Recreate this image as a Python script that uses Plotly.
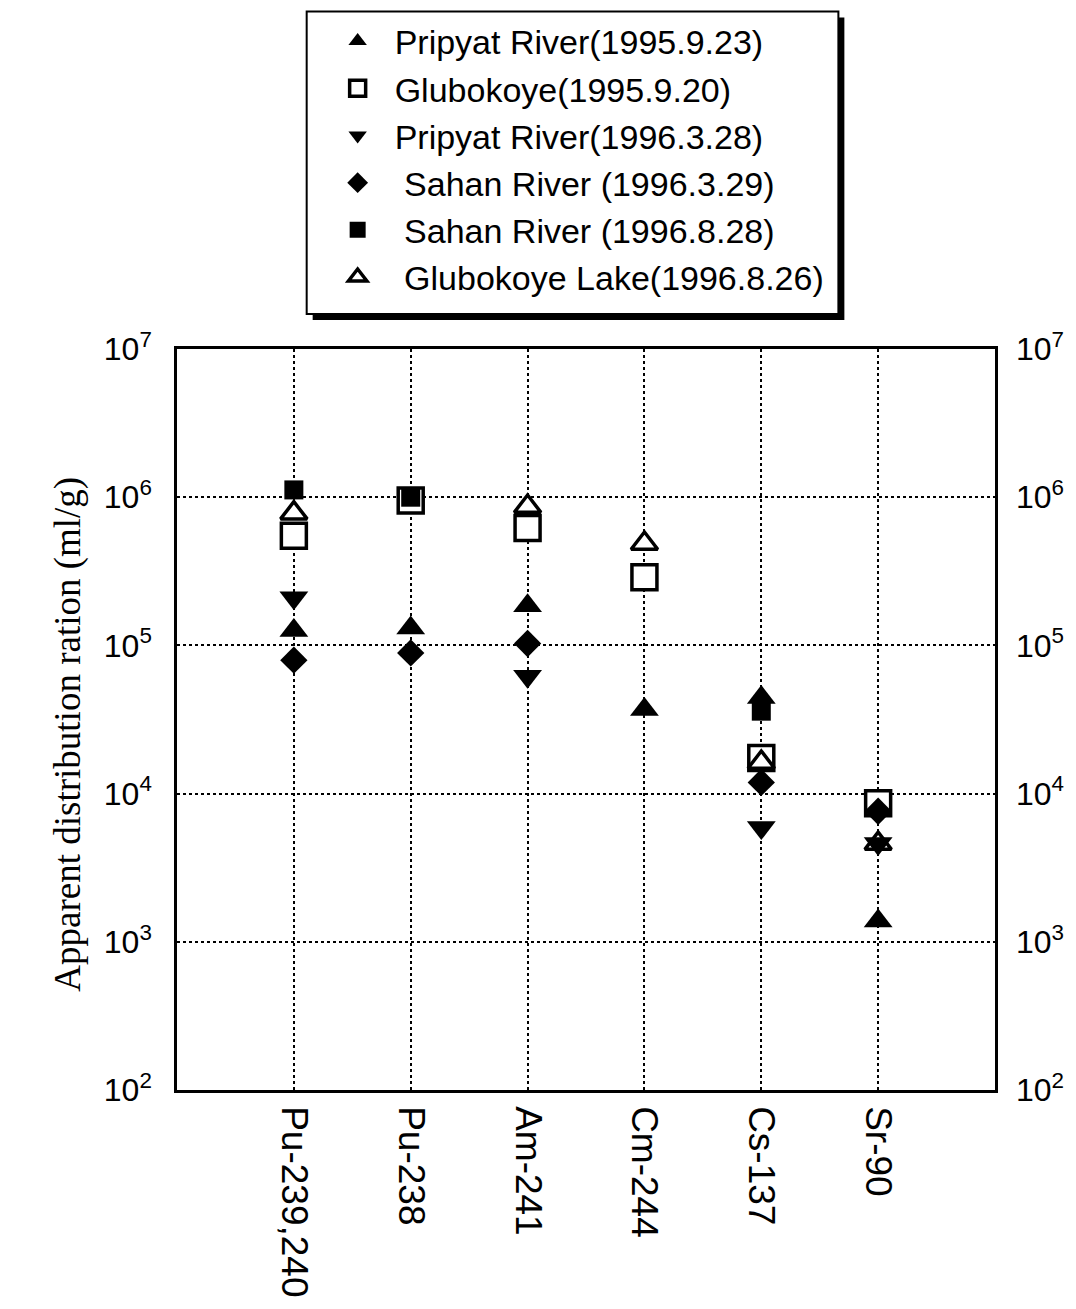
import plotly.graph_objects as go

# Radionuclides along the x axis
isotopes = ["Pu-239,240", "Pu-238", "Am-241", "Cm-244", "Cs-137", "Sr-90"]

# Apparent distribution ratio (ml/g) per sampling campaign
pripyat_1995 = [1.26e5, 1.31e5, 1.85e5, 3.7e4, 4.45e4, 1.38e3]
glubokoye_1995 = [5.5e5, 9.5e5, 6.2e5, 2.88e5, 1.74e4, 8.6e3]
pripyat_1996 = [2.1e5, None, 6.2e4, None, 5.9e3, 4.6e3]
sahan_1996_03 = [7.95e4, 8.9e4, 1.03e5, None, 1.19e4, 7.6e3]
sahan_1996_08 = [1.12e6, 1.0e6, None, None, 3.6e4, None]
glubokoye_lake_1996 = [7.8e5, None, 8.65e5, 4.87e5, 1.62e4, 4.6e3]

# Log-axis ticks
tick_vals = [1e2, 1e3, 1e4, 1e5, 1e6, 1e7]
tick_text = ["10<sup>2</sup>", "10<sup>3</sup>", "10<sup>4</sup>",
             "10<sup>5</sup>", "10<sup>6</sup>", "10<sup>7</sup>"]

NBSP = "\u00a0"
SANS = "Liberation Sans, Arial, sans-serif"
SERIF = "Liberation Serif, Times New Roman, serif"

# Plot-area geometry in pixels (used to place the framed legend box)
W, H = 1076, 1309
L, R, T, B = 177, 79, 348, 219
PW, PH = W - L - R, H - T - B


def px_x(px):
    return (px - L) / PW


def px_y(py):
    return (H - B - py) / PH


# (name, values, symbol, size, fill, outline width, legend rank), in drawing order
series = [
    ("Pripyat River(1995.9.23)", pripyat_1995, "triangle-up", 25, "black", 0, 1),
    ("Glubokoye(1995.9.20)", glubokoye_1995, "square", 25, "white", 3.5, 2),
    (NBSP + "Sahan River (1996.3.29)", sahan_1996_03, "diamond", 21, "black", 0, 4),
    (NBSP + "Sahan River (1996.8.28)", sahan_1996_08, "square", 19, "black", 0, 5),
    (NBSP + "Glubokoye Lake(1996.8.26)", glubokoye_lake_1996, "triangle-up", 23, "white", 3.5, 6),
    ("Pripyat River(1996.3.28)", pripyat_1996, "triangle-down", 25, "black", 0, 3),
]

fig = go.Figure()
for name, vals, symbol, size, fill, lw, rank in series:
    fig.add_trace(go.Scatter(
        x=isotopes, y=vals, mode="markers", name=name, legendrank=rank,
        marker=dict(symbol=symbol, size=size, color=fill,
                    line=dict(color="black", width=lw)),
    ))

# carrier for the right-hand axis labels
fig.add_trace(go.Scatter(x=[], y=[], yaxis="y2", showlegend=False, hoverinfo="skip"))

fig.update_layout(
    width=W, height=H,
    margin=dict(l=L, r=R, t=T, b=B),
    paper_bgcolor="white", plot_bgcolor="white",
    font=dict(family=SANS, color="black"),
    showlegend=True,
    legend=dict(
        x=px_x(321), y=px_y(11), xanchor="left", yanchor="top",
        bgcolor="rgba(0,0,0,0)", borderwidth=0,
        font=dict(family=SANS, size=34, color="black"),
        itemwidth=64, traceorder="normal",
    ),
    xaxis=dict(
        type="category", categoryorder="array", categoryarray=isotopes,
        range=[-1, 6],
        showgrid=True, gridcolor="black", griddash="dot", gridwidth=2,
        showline=True, linecolor="black", linewidth=2.5, mirror=True,
        ticks="", tickangle=90, ticklabelstandoff=6,
        tickfont=dict(family=SANS, size=37, color="black"),
        zeroline=False,
    ),
    yaxis=dict(
        type="log", range=[2, 7],
        tickvals=tick_vals, ticktext=tick_text,
        showgrid=True, gridcolor="black", griddash="dot", gridwidth=2,
        showline=True, linecolor="black", linewidth=2.5, mirror=True,
        ticks="", ticklabelstandoff=16,
        tickfont=dict(family=SANS, size=32, color="black"),
        zeroline=False,
    ),
    yaxis2=dict(
        type="log", range=[2, 7], overlaying="y", side="right",
        tickvals=tick_vals, ticktext=tick_text,
        showgrid=False, showline=False, ticks="", ticklabelstandoff=20,
        tickfont=dict(family=SANS, size=32, color="black"),
        zeroline=False,
    ),
    annotations=[dict(
        text="Apparent distribution ration (ml/g)",
        xref="paper", yref="paper", x=px_x(45), y=0.48,
        textangle=-90, showarrow=False,
        font=dict(family=SERIF, size=37, color="black"),
    )],
    shapes=[
        # drop shadow of the legend frame
        dict(type="rect", xref="paper", yref="paper", layer="below",
             x0=px_x(313), x1=px_x(846), y0=px_y(319), y1=px_y(16),
             fillcolor="black", line=dict(width=0)),
        # legend frame
        dict(type="rect", xref="paper", yref="paper", layer="below",
             x0=px_x(307), x1=px_x(840), y0=px_y(313), y1=px_y(10),
             fillcolor="white", line=dict(color="black", width=2)),
    ],
)

fig.write_html("out.html")
